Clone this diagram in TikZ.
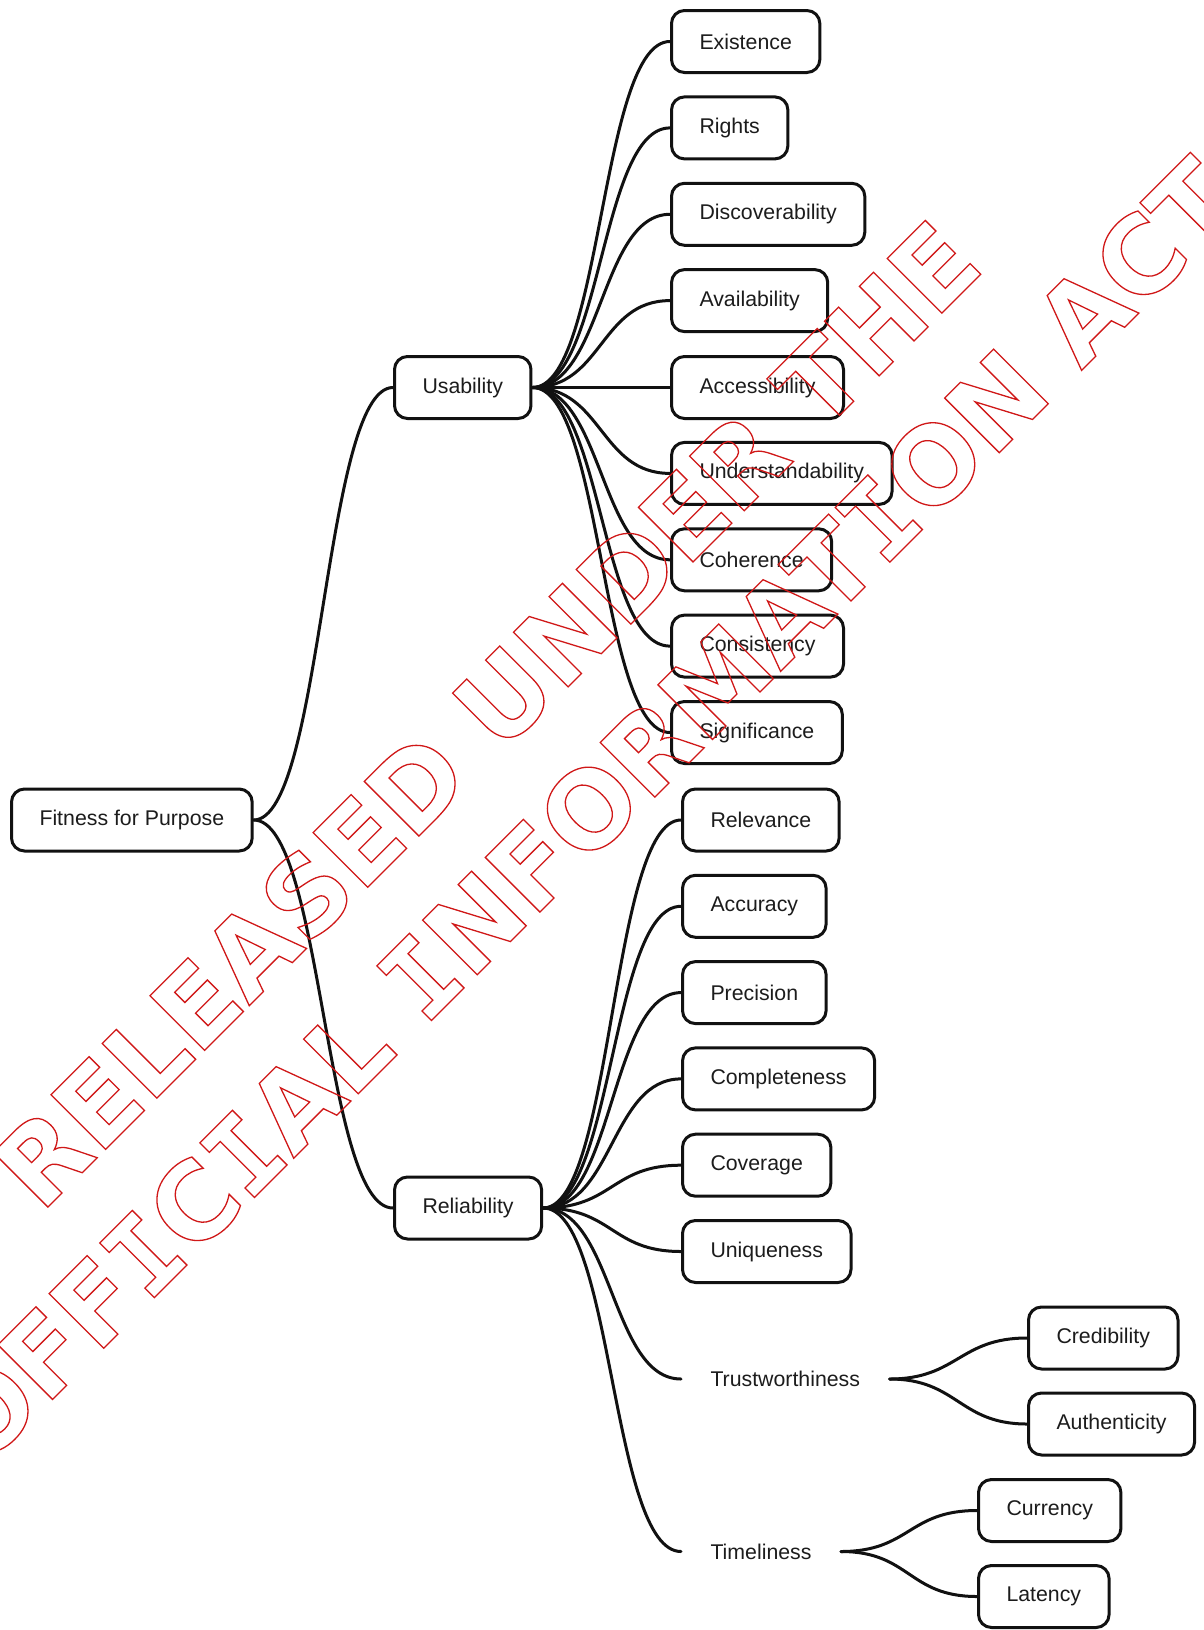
\documentclass[tikz,border=0pt]{standalone}
\usepackage{fontspec}
\setmainfont{Liberation Sans}
\newfontfamily\stampfont{DejaVu Sans}
\newfontfamily\stampmono{DejaVu Sans Mono}
\definecolor{inkline}{HTML}{111111}
\definecolor{inktext}{HTML}{1C1C1C}
\definecolor{stampred}{HTML}{D01818}
% hollow (stroked only) lettering for the stamp
\newcommand\hollowtext[1]{\special{pdf:literal direct 1 Tr 1.3 w}#1\special{pdf:literal direct 0 Tr}}
% serifed capital I used in the stamp lettering
\newcommand\stampI{{\stampmono\bfseries I}}
% curved connector leaving and entering horizontally
\newcommand\mmlink[3]{\draw[link] (#1.east) .. controls +(#3,0) and +(-#3,0) .. (#2.west);}
\begin{document}
\begin{tikzpicture}[x=1pt,y=-1pt,
  box/.style={draw=inkline, line width=3pt, rounded corners=13pt, fill=white,
    minimum height=62pt, inner xsep=28pt, inner ysep=0pt, anchor=west,
    font=\fontsize{21.3}{25}\selectfont, text=inktext},
  plain/.style={box, draw=none, fill=none},
  link/.style={line width=3pt, inkline, line cap=round},
  stamp/.style={rotate=45, anchor=base, inner sep=0pt, text=stampred,
    font=\fontsize{106}{128}\selectfont\stampfont\bfseries}
]
\useasboundingbox[fill=white] (0,0) rectangle (1203,1630);

% root and main branches
\node[box] (root) at (10,820) {Fitness for Purpose};
\node[box] (use) at (393,387.5) {Usability};
\node[box] (rel) at (393,1208) {Reliability};

% usability leaves
\node[box] (u1) at (670,41.5) {Existence};
\node[box] (u2) at (670,127.9) {Rights};
\node[box] (u3) at (670,214.3) {Discoverability};
\node[box] (u4) at (670,300.6) {Availability};
\node[box] (u5) at (670,387.5) {Accessibility};
\node[box] (u6) at (670,473.4) {Understandability};
\node[box] (u7) at (670,559.8) {Coherence};
\node[box] (u8) at (670,646.1) {Consistency};
\node[box] (u9) at (670,732.5) {Significance};

% reliability leaves
\node[box] (r1) at (681,820) {Relevance};
\node[box] (r2) at (681,906.3) {Accuracy};
\node[box] (r3) at (681,992.6) {Precision};
\node[box] (r4) at (681,1078.9) {Completeness};
\node[box] (r5) at (681,1165.2) {Coverage};
\node[box] (r6) at (681,1251.5) {Uniqueness};
\node[plain] (trust) at (681,1379) {Trustworthiness};
\node[plain] (time) at (681,1551.5) {Timeliness};

% third level
\node[box] (t1) at (1027,1338) {Credibility};
\node[box] (t2) at (1027,1424) {Authenticity};
\node[box] (m1) at (977,1510.5) {Currency};
\node[box] (m2) at (977,1596.5) {Latency};

% connectors
\mmlink{root}{use}{69}
\mmlink{root}{rel}{69}
\foreach \n in {u1,u2,u3,u4,u5,u6,u7,u8,u9} {\mmlink{use}{\n}{70}}
\foreach \n in {r1,r2,r3,r4,r5,r6,trust,time} {\mmlink{rel}{\n}{70}}
\mmlink{trust}{t1}{68}
\mmlink{trust}{t2}{68}
\mmlink{time}{m1}{69}
\mmlink{time}{m2}{69}

% release stamp
\node[stamp] (stampa) at (513.7,741.3) {\hollowtext{RELEASED UNDER THE}};
\node[stamp] (stampb) at (613.7,838.3)
  {\hollowtext{OFF\stampI C\stampI AL \stampI NFORMAT\stampI ON ACT}};
\end{tikzpicture}
\end{document}
